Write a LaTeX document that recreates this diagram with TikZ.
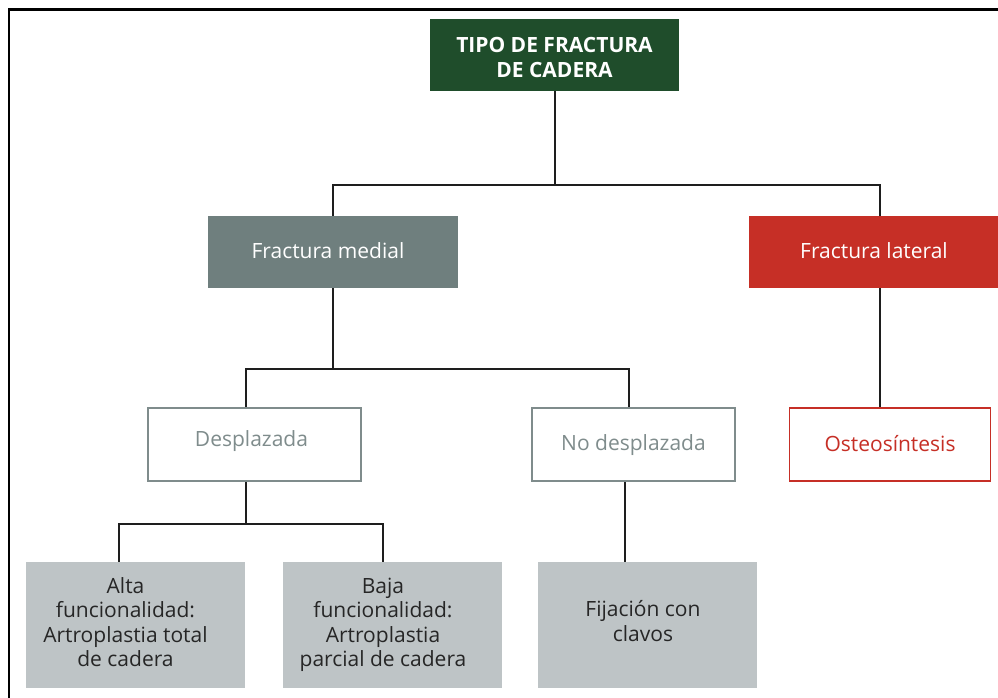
\documentclass[tikz,border=0pt]{standalone}
\usepackage{fontspec}
\setmainfont{Open Sans}
\definecolor{dgreen}{HTML}{1F4D2B}
\definecolor{tealg}{HTML}{6F7F7E}
\definecolor{redd}{HTML}{C62F26}
\definecolor{lgrey}{HTML}{BEC4C6}
\definecolor{bgrey}{HTML}{7F8C8C}
\definecolor{linec}{HTML}{1E1E1E}
% #1 = extra right space (text moves left by half), #2 = visual raise, #3 = lines
\newcommand{\shiftedtext}[3]{\raisebox{#2}[\height][\depth]{\begin{tabular}{@{}c@{}}#3\end{tabular}}\hspace*{#1}}
\begin{document}
\begin{tikzpicture}[x=1pt,y=-1pt,
  box/.style={rectangle, inner sep=0pt, font=\fontsize{21}{24.5}\selectfont},
  lvlone/.style={box, minimum width=250pt, minimum height=72pt, text=white},
  outl/.style={box, fill=white, line width=1.6pt, minimum width=213pt, minimum height=73pt},
  leaf/.style={box, fill=lgrey, text=black!85, minimum width=219pt, minimum height=126pt},
  conn/.style={line width=2pt, draw=linec}]
\useasboundingbox (0,0) rectangle (998,698);
\draw[line width=2.2pt] (9,702) -- (9,9.5) -- (1002,9.5);

\node[box, fill=dgreen, text=white, font=\fontsize{21}{25}\selectfont\bfseries, minimum width=249pt, minimum height=72pt] (top) at (554.5,55) {\shiftedtext{0pt}{-5pt}{TIPO DE FRACTURA\\DE CADERA}};
\node[lvlone, fill=tealg] (medial) at (333,252) {\shiftedtext{10pt}{-2pt}{Fractura medial}};
\node[lvlone, fill=redd] (lateral) at (874,252) {\shiftedtext{0pt}{-2pt}{Fractura lateral}};
\node[outl, draw=bgrey, text=bgrey] (despl) at (254.5,444.5) {\shiftedtext{6pt}{3pt}{Desplazada}};
\node[outl, draw=bgrey, text=bgrey, minimum width=203pt] (nodespl) at (633.5,444.5) {\shiftedtext{0pt}{-1pt}{No desplazada}};
\node[outl, draw=redd, text=redd, minimum width=201pt] (osteo) at (890,444.5) {\shiftedtext{0pt}{-2pt}{Osteosíntesis}};
\node[leaf] (alta) at (135.5,625) {\shiftedtext{20pt}{0pt}{Alta\\funcionalidad:\\Artroplastia total\\de cadera}};
\node[leaf] (baja) at (392,625) {\shiftedtext{18pt}{0pt}{Baja\\funcionalidad:\\Artroplastia\\parcial de cadera}};
\node[leaf] (fija) at (647,625) {\shiftedtext{8pt}{1pt}{Fijación con\\clavos}};

\coordinate (j1) at (top.south |- 0,185);
\coordinate (j2) at (medial.south |- 0,369);
\coordinate (j3) at ([xshift=-8.5pt]despl.south |- 0,524);
\draw[conn] (top.south) -- (j1);
\draw[conn] (medial.north) |- (j1) -| ([xshift=6pt]lateral.north);
\draw[conn] (medial.south) -- (j2);
\draw[conn] (j2) -| ([xshift=-8.5pt]despl.north);
\draw[conn] (j2) -| ([xshift=-4.5pt]nodespl.north);
\draw[conn] ([xshift=6pt]lateral.south) -- ([xshift=6pt]lateral.south |- osteo.north);
\draw[conn] ([xshift=-8.5pt]despl.south) -- (j3);
\draw[conn] (j3) -| ([xshift=-16.5pt]alta.north);
\draw[conn] (j3) -| ([xshift=-9pt]baja.north);
\draw[conn] ([xshift=-8.5pt]nodespl.south) -- ([xshift=-8.5pt]nodespl.south |- fija.north);
\end{tikzpicture}
\end{document}
